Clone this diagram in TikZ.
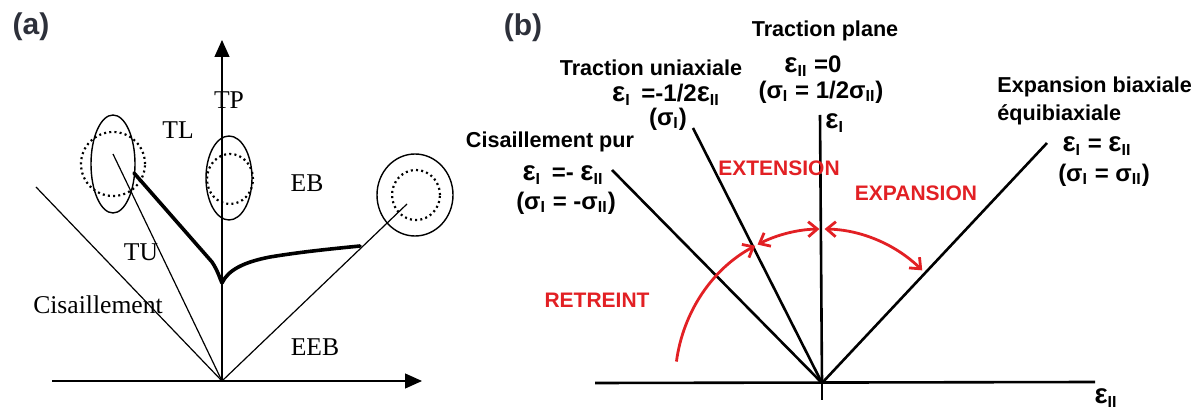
\documentclass[tikz,border=0pt]{standalone}
\usepackage{fontspec}
\setmainfont{Liberation Serif}
\setsansfont{Liberation Sans}
\usetikzlibrary{arrows.meta,calc}
\definecolor{panelGray}{RGB}{45,48,58}
\definecolor{arcRed}{RGB}{226,32,36}
\newcommand{\epsl}[1]{{\fontsize{13.8}{14}\selectfont ε}\textsubscript{#1}}
\newcommand{\sigl}[1]{σ\textsubscript{#1}}

\begin{document}
\begin{tikzpicture}[x=0.5pt,y=0.5pt,
  panel/.style={font=\sffamily\bfseries\fontsize{15}{17}\selectfont,text=panelGray,inner sep=0pt},
  tms/.style={font=\fontsize{12.8}{14}\selectfont,inner sep=0pt},
  axa/.style={line width=0.6pt,-{Triangle[length=8.5pt,width=7.5pt]}},
  raya/.style={line width=0.6pt},
  solida/.style={line width=0.7pt},
  dota/.style={line width=1.1pt,dash pattern=on 1pt off 1.6pt},
  curvea/.style={line width=1.8pt,line cap=round,line join=round},
  rayb/.style={line width=1.3pt},
  lab/.style={font=\sffamily\bfseries\fontsize{10.8}{12}\selectfont,inner sep=0pt},
  eqn/.style={font=\sffamily\bfseries\fontsize{12}{14}\selectfont,inner sep=0pt},
  rlab/.style={font=\sffamily\bfseries\fontsize{10.5}{12}\selectfont,text=arcRed,inner sep=0pt},
  arcb/.style={arcRed,line width=1.4pt,>={Straight Barb[length=4.5pt,width=7.5pt]}}]
\useasboundingbox (0,0) rectangle (1200,412);

% ---- (a) ----
\node[panel] (pa) at (31,385) {(a)};
\coordinate (Oa) at (222,31);
\coordinate (xaL) at (52,31);  \coordinate (xaR) at (422,31);
\coordinate (yaT) at (222,372);
\coordinate (cisEnd) at (36,225);
\coordinate (tuEnd) at (113,258);
\coordinate (eebEnd) at (407,208);
\draw[axa] (xaL) -- (xaR);
\draw[axa] (Oa) -- (yaT);
\draw[raya] (Oa) -- (cisEnd);
\draw[raya] (Oa) -- (tuEnd);
\draw[raya] (Oa) -- (eebEnd);

\draw[solida] (113,248) ellipse [x radius=22,y radius=49];
\draw[dota]   (113,248) circle [radius=32];
\draw[solida] (229,234) ellipse [x radius=23,y radius=42];
\draw[dota]   (230,233) ellipse [x radius=23,y radius=25];
\draw[solida] (415,217) ellipse [x radius=38,y radius=41];
\draw[dota]   (416,217) ellipse [x radius=24,y radius=25];

\draw[curvea] (134,239) -- (212,150) .. controls (218,141) and (220,133) .. (222,129)
  .. controls (228,142) and (244,150) .. (270,155) .. controls (300,160) and (330,163) .. (360,166);

\node[tms] (tp)  at (229,312) {TP};
\node[tms] (tl)  at (178,282) {TL};
\node[tms] (eb)  at (307,229) {EB};
\node[tms] (tu)  at (141,160) {TU};
\node[tms] (cis) at (98,107) {Cisaillement};
\node[tms] (eeb) at (315,65) {EEB};

% ---- (b) ----
\node[panel] (pb) at (523,384) {(b)};
\coordinate (Ob) at (822,29);
\coordinate (xbL) at (595,29); \coordinate (xbR) at (1095,30);
\coordinate (ybT) at (820,297); \coordinate (ybB) at (822,12);
\coordinate (cpEnd) at (612,242);
\coordinate (tuaEnd) at (693,284);
\coordinate (ebEnd) at (1047,269);
\draw[rayb] (xbL) -- (xbR);
\draw[line width=0.7pt] (ybB) -- (Ob);
\draw[rayb] (Ob) -- (ybT);
\draw[rayb] (Ob) -- (cpEnd);
\draw[rayb] (Ob) -- (tuaEnd);
\draw[rayb] (Ob) -- (ebEnd);

\draw[arcb,->]  ($(Ob)+(172:147 and 154)$) arc[start angle=172,end angle=117,x radius=147,y radius=154];
\draw[arcb,<->] ($(Ob)+(116:147 and 154)$) arc[start angle=116,end angle=91,x radius=147,y radius=154];
\draw[arcb,<->] ($(Ob)+(89:147 and 154)$) arc[start angle=89,end angle=47,x radius=147,y radius=154];

\node[rlab] (ext) at (779,244) {EXTENSION};
\node[rlab] (exp) at (916,219) {EXPANSION};
\node[rlab] (ret) at (597,112) {RETREINT};

\node[lab] (tpl)  at (825,381) {Traction plane};
\node[eqn] (tplE) at (813,346) {\epsl{II} =0};
\node[eqn] (tplS) at (821,320) {(\sigl{I} = 1/2\sigl{II})};
\node[eqn,anchor=west] (e1) at (825,289) {\epsl{I}};

\node[lab] (tua)  at (651,344) {Traction uniaxiale};
\node[eqn] (tuaE) at (666,317) {\epsl{I}\, =-1/2\epsl{II}};
\node[eqn] (tuaS) at (668,293) {(\sigl{I})};

\node[lab] (cpu)  at (550,270) {Cisaillement pur};
\node[eqn] (cpuE) at (563,237) {\epsl{I}\, =- \epsl{II}};
\node[eqn] (cpuS) at (566,209) {(\sigl{I} = -\sigl{II})};

\node[lab,anchor=west] (ebi)  at (997,325) {Expansion biaxiale};
\node[lab,anchor=west] (ebi2) at (997,297) {équibiaxiale};
\node[eqn] (ebiE) at (1097,266) {\epsl{I} = \epsl{II}};
\node[eqn] (ebiS) at (1104,237) {(\sigl{I} = \sigl{II})};

\node[eqn] (e2) at (1106,14) {\epsl{II}};
\end{tikzpicture}
\end{document}
